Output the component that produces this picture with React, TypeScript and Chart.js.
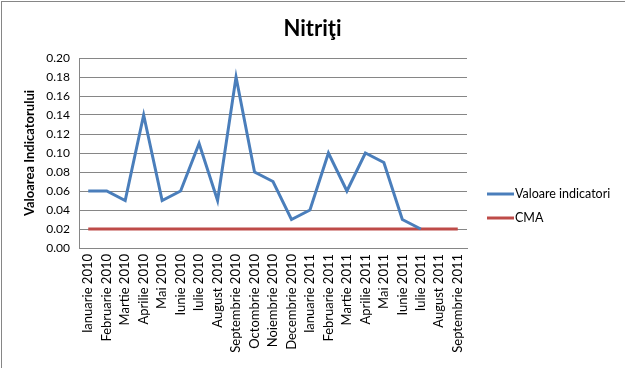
import React, { useEffect, useRef } from "react";
import { Chart, registerables } from "chart.js";

Chart.register(...registerables);

const months: string[] = [
  "Ianuarie 2010", "Februarie 2010", "Martie 2010", "Aprilie 2010", "Mai 2010",
  "Iunie 2010", "Iulie 2010", "August 2010", "Septembrie 2010", "Octombrie 2010",
  "Noiembrie 2010", "Decembrie 2010", "Ianuarie 2011", "Februarie 2011", "Martie 2011",
  "Aprilie 2011", "Mai 2011", "Iunie 2011", "Iulie 2011", "August 2011", "Septembrie 2011",
];

const valoareIndicatori: (number | null)[] = [
  0.06, 0.06, 0.05, 0.14, 0.05, 0.06, 0.11, 0.05, 0.18, 0.08, 0.07,
  0.03, 0.04, 0.10, 0.06, 0.10, 0.09, 0.03, 0.02, null, null,
];

const cma: number[] = [
  0.02, 0.02, 0.02, 0.02, 0.02, 0.02, 0.02, 0.02, 0.02, 0.02, 0.02,
  0.02, 0.02, 0.02, 0.02, 0.02, 0.02, 0.02, 0.02, 0.02, 0.02,
];

const chartTitle = "Nitriţi";

const FONT = "Lato, 'Open Sans', sans-serif";

const decorPlugin = {
  id: "decor",
  afterDraw(chart: any) {
    const ctx = chart.ctx;
    ctx.save();
    // title centered on whole canvas
    ctx.fillStyle = "#000";
    ctx.font = `bold 22px ${FONT}`;
    ctx.textAlign = "center";
    ctx.textBaseline = "middle";
    ctx.fillText(chartTitle, chart.width / 2, 29);
    // legend on the right
    chart.data.datasets.forEach((ds: any, i: number) => {
      const y = 194 + i * 24;
      ctx.strokeStyle = ds.borderColor;
      ctx.lineWidth = 3;
      ctx.beginPath();
      ctx.moveTo(487, y);
      ctx.lineTo(514, y);
      ctx.stroke();
      ctx.fillStyle = "#000";
      ctx.font = `12.5px ${FONT}`;
      ctx.textBaseline = "middle";
      ctx.textAlign = "left";
      ctx.fillText(ds.label, 515, y);
    });
    ctx.restore();
  },
};

export default function App() {
  const ref = useRef<HTMLCanvasElement | null>(null);

  useEffect(() => {
    if (!ref.current) return;
    const chart = new Chart(ref.current, {
      type: "line",
      data: {
        labels: months,
        datasets: [
          {
            label: "Valoare indicatori",
            data: valoareIndicatori,
            borderColor: "#4a7ebb",
            backgroundColor: "#4a7ebb",
            borderWidth: 3,
            pointRadius: 0,
            tension: 0,
            spanGaps: false,
          },
          {
            label: "CMA",
            data: cma,
            borderColor: "#be4b48",
            backgroundColor: "#be4b48",
            borderWidth: 3,
            pointRadius: 0,
            tension: 0,
          },
        ],
      },
      options: {
        animation: false,
        responsive: false,
        devicePixelRatio: 1,
        layout: { padding: { left: 0, right: 158, top: 58, bottom: 0 } },
        plugins: {
          legend: { display: false },
          tooltip: { enabled: false },
          title: { display: false },
        },
        scales: {
          x: {
            offset: true,
            grid: { display: false, drawTicks: false },
            border: { display: true, color: "#868686", width: 1 },
            ticks: {
              autoSkip: false,
              minRotation: 90,
              maxRotation: 90,
              padding: 6,
              color: "#000",
              font: { family: FONT, size: 13 },
            },
            afterFit(scale: any) {
              scale.height = 120;
            },
          },
          y: {
            min: 0,
            max: 0.2,
            grid: { color: "#868686", drawTicks: false, lineWidth: 1 },
            border: { display: true, color: "#868686", width: 1 },
            ticks: {
              stepSize: 0.02,
              padding: 9,
              color: "#000",
              font: { family: FONT, size: 12 },
              callback: (v: any) => Number(v).toFixed(2),
            },
            title: {
              display: true,
              text: "Valoarea Indicatorului",
              color: "#000",
              font: { family: FONT, size: 13, weight: "bold", lineHeight: 1.2 },
              padding: { top: 22, bottom: 0 },
            },
            afterFit(scale: any) {
              scale.width = 79;
            },
          },
        },
      },
      plugins: [decorPlugin],
    });
    return () => chart.destroy();
  }, []);

  return (
    <div style={{ position: "fixed", left: 0, top: 0, width: 625, height: 368, background: "#fff" }}>
      <canvas ref={ref} width={625} height={368} style={{ position: "absolute", left: 0, top: 0 }} />
      <div
        style={{
          position: "absolute",
          left: 1,
          top: 1,
          width: 624,
          height: 367,
          borderTop: "1px solid #868686",
          borderLeft: "1px solid #868686",
          boxSizing: "border-box",
          pointerEvents: "none",
        }}
      />
    </div>
  );
}
